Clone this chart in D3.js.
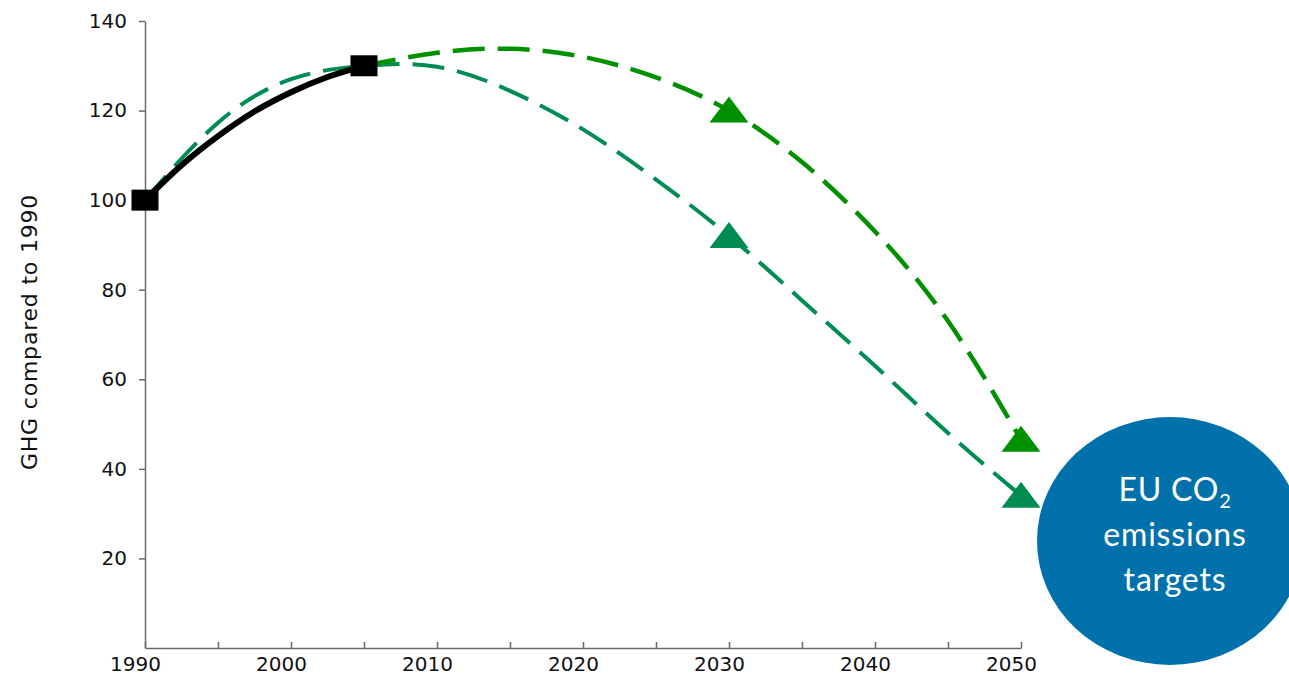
<!DOCTYPE html>
<html>
<head>
<meta charset="utf-8">
<script src="https://cdn.jsdelivr.net/npm/d3@7"></script>
<style>
  html, body { margin: 0; padding: 0; background: #fff; }
  svg { display: block; }
</style>
</head>
<body>
<svg id="chart" width="1289" height="677"></svg>
<script>
// ---- data ----
const yTickValues = [20, 40, 60, 80, 100, 120, 140];
const xTickValues = [1990, 1995, 2000, 2005, 2010, 2015, 2020, 2025, 2030, 2035, 2040, 2045, 2050];
const xLabelYears = [1990, 2000, 2010, 2020, 2030, 2040, 2050];

const historicYears = [1990, 1992.5, 1995, 1997.5, 2000, 2002.5, 2005];
const historicValues = [100, 107.8, 114.3, 119.8, 124.1, 127.5, 130];
const historicMarkerYears = [1990, 2005];

const highYears = [2005, 2010, 2015, 2020, 2025, 2030, 2035, 2040, 2045, 2050];
const highValues = [130, 132.9, 133.8, 132, 127.4, 120, 108.5, 93, 73, 46.5];
const highMarkerYears = [2030, 2050];

const lowYears = [1990, 1995, 2000, 2005, 2010, 2015, 2020, 2025, 2030, 2035, 2040, 2045, 2050];
const lowValues = [100, 117.3, 127, 130, 129.8, 124.4, 115.8, 104.6, 92, 77.6, 63, 48, 34];
const lowMarkerYears = [2030, 2050];

const yAxisTitle = "GHG compared to 1990";
const bubbleLines = ["EU CO", "emissions", "targets"];

// ---- layout ----
const svg = d3.select("#chart");
const x = d3.scaleLinear().domain([1990, 2050]).range([145, 1021]);
const y = d3.scaleLinear().domain([0, 140]).range([648, 21]);

const axisColor = "#6b6b6b";
const tickFont = "'DejaVu Sans', sans-serif";

// y axis
const yAxis = svg.append("g")
  .attr("transform", `translate(${x(1990)},0)`)
  .call(d3.axisLeft(y).tickValues(yTickValues).tickSize(6).tickSizeOuter(0).tickPadding(12));
yAxis.select(".domain").attr("stroke", axisColor).attr("stroke-width", 1.5);
yAxis.selectAll(".tick line").attr("stroke", axisColor).attr("stroke-width", 1.5);
yAxis.selectAll(".tick text")
  .attr("font-family", tickFont).attr("font-size", 20).attr("fill", "#111");

// x axis
const xAxis = svg.append("g")
  .attr("transform", `translate(0,${y(0)})`)
  .call(d3.axisBottom(x).tickValues(xTickValues).tickSize(-6).tickSizeOuter(0)
    .tickFormat(d => xLabelYears.includes(d) ? String(d) : ""));
xAxis.select(".domain").attr("stroke", axisColor).attr("stroke-width", 1.5);
xAxis.selectAll(".tick line").attr("stroke", axisColor).attr("stroke-width", 1.5);
xAxis.selectAll(".tick text")
  .attr("font-family", tickFont).attr("font-size", 20).attr("fill", "#111")
  .attr("x", -10).attr("y", 0).attr("dy", "23px");

// y axis title
svg.append("text")
  .attr("transform", `translate(37,332) rotate(-90)`)
  .attr("text-anchor", "middle")
  .attr("font-family", tickFont).attr("font-size", 22).attr("letter-spacing", 0.8)
  .attr("fill", "#111")
  .text(yAxisTitle);

// lines
const lineGen = d3.line()
  .x(d => x(d[0])).y(d => y(d[1]))
  .curve(d3.curveNatural);
const histLineGen = d3.line()
  .x(d => x(d[0])).y(d => y(d[1]))
  .curve(d3.curveMonotoneX);

const lowColor = "#008c52";
const highColor = "#009100";

svg.append("path")
  .datum(lowYears.map((yr, i) => [yr, lowValues[i]]))
  .attr("d", lineGen).attr("fill", "none")
  .attr("stroke", lowColor).attr("stroke-width", 4)
  .attr("stroke-dasharray", "32,13");

svg.append("path")
  .datum(highYears.map((yr, i) => [yr, highValues[i]]))
  .attr("d", lineGen).attr("fill", "none")
  .attr("stroke", highColor).attr("stroke-width", 4.5)
  .attr("stroke-dasharray", "32,13");

svg.append("path")
  .datum(historicYears.map((yr, i) => [yr, historicValues[i]]))
  .attr("d", histLineGen).attr("fill", "none")
  .attr("stroke", "#000").attr("stroke-width", 6);

// markers
const tri = (cx, cy) => `M${cx},${cy - 14} L${cx + 19.5},${cy + 12} L${cx - 19.5},${cy + 12} Z`;

svg.selectAll(".tri-low")
  .data(lowMarkerYears)
  .join("path")
  .attr("d", yr => tri(x(yr), y(lowValues[lowYears.indexOf(yr)])))
  .attr("fill", lowColor);

svg.selectAll(".tri-high")
  .data(highMarkerYears)
  .join("path")
  .attr("d", yr => tri(x(yr), y(highValues[highYears.indexOf(yr)])))
  .attr("fill", highColor);

svg.selectAll(".sq")
  .data(historicMarkerYears)
  .join("rect")
  .attr("x", yr => x(yr) - 13.5)
  .attr("y", yr => y(historicValues[historicYears.indexOf(yr)]) - 10.5)
  .attr("width", 27).attr("height", 21)
  .attr("fill", "#000");

// bubble annotation
const bx = 1170, by = 541;
svg.append("ellipse")
  .attr("cx", bx).attr("cy", by).attr("rx", 133).attr("ry", 124)
  .attr("fill", "#0071ab");

const bt = svg.append("g")
  .attr("font-family", "Lato, 'Open Sans', sans-serif")
  .attr("font-size", 32).attr("fill", "#fff").attr("text-anchor", "middle")
  .attr("letter-spacing", 0.8);
const t0 = bt.append("text").attr("x", 1175).attr("y", 501);
t0.append("tspan").text(bubbleLines[0]);
t0.append("tspan").attr("font-size", 20).attr("dy", 7).text("2");
bt.append("text").attr("x", 1175).attr("y", 546).text(bubbleLines[1]);
bt.append("text").attr("x", 1175).attr("y", 591).text(bubbleLines[2]);
</script>
</body>
</html>
